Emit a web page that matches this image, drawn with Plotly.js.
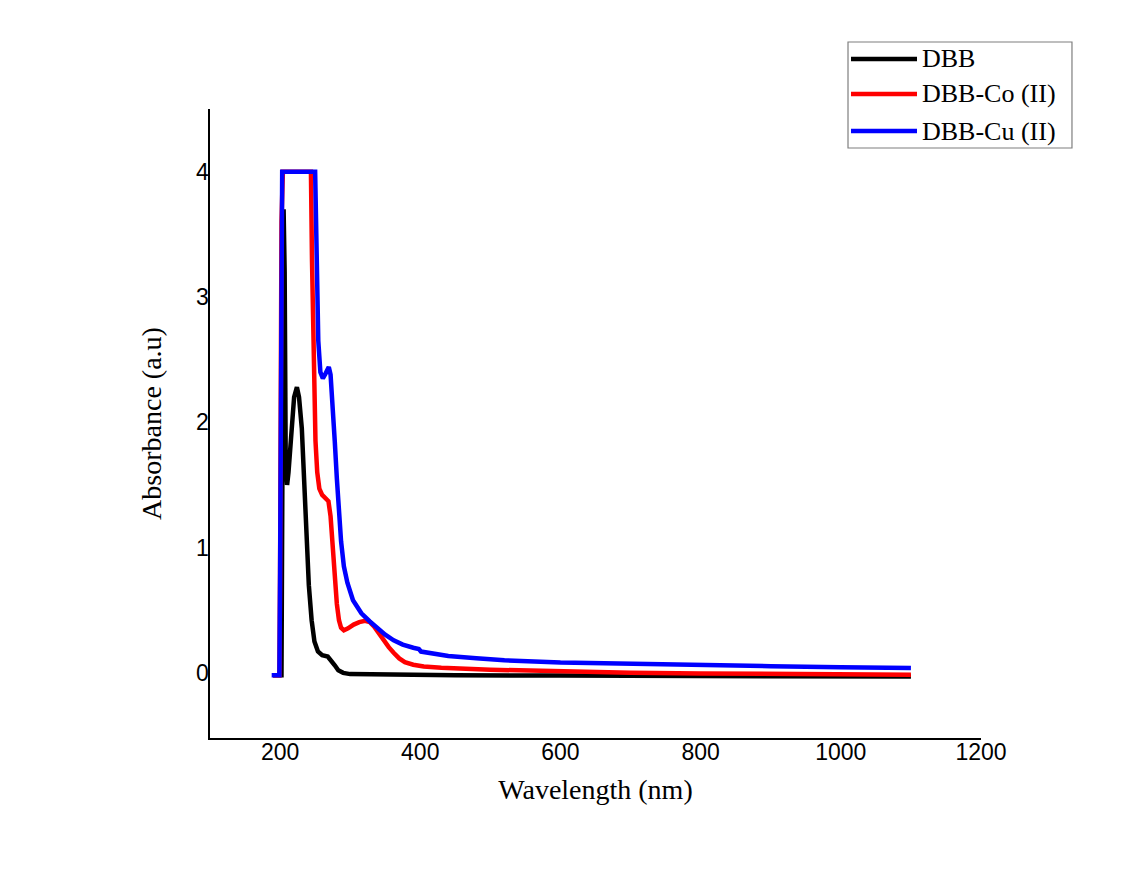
<!DOCTYPE html>
<html>
<head>
<meta charset="utf-8">
<script src="https://cdn.plot.ly/plotly-3.0.1.min.js"></script>
<style>html,body{margin:0;padding:0;background:#fff;}#chart{width:1122px;height:876px;}</style>
</head>
<body>
<div id="chart"></div>
<script>
// ---- data ----
const seriesNames = ["DBB", "DBB-Co (II)", "DBB-Cu (II)"];

const wlDBB = [190, 202, 205, 206.5, 208, 210, 212, 216, 220, 224, 227, 231, 234, 237.5, 241, 245, 249, 254, 260, 268, 273, 278, 283, 290, 300, 350, 450, 600, 800, 1000, 1100];
const absDBB = [-0.02, -0.02, 3.7, 3.2, 1.7, 1.5, 1.6, 1.95, 2.2, 2.28, 2.2, 1.95, 1.55, 1.1, 0.7, 0.42, 0.25, 0.17, 0.14, 0.13, 0.1, 0.06, 0.02, 0.0, -0.01, -0.015, -0.02, -0.022, -0.025, -0.028, -0.03];

const wlCo = [190, 199, 200, 202, 204, 244, 245.5, 247, 248.5, 250.5, 253, 256, 260, 266, 269, 272, 275, 278, 281, 284, 287, 291, 297, 305, 313, 321, 328, 334, 340, 347, 355, 362, 370, 378, 390, 405, 430, 500, 600, 700, 800, 900, 1000, 1100];
const absCo = [-0.02, -0.02, 0.8, 3.6, 4.0, 4.0, 3.3, 2.8, 2.25, 1.85, 1.6, 1.47, 1.42, 1.39, 1.37, 1.25, 1.0, 0.75, 0.55, 0.42, 0.36, 0.34, 0.355, 0.385, 0.405, 0.415, 0.405, 0.37, 0.32, 0.27, 0.205, 0.16, 0.115, 0.085, 0.065, 0.05, 0.04, 0.025, 0.01, 0.0, -0.005, -0.01, -0.013, -0.015];

const wlCu = [188, 199, 200, 201.5, 203, 250, 251, 252.5, 254.5, 257.5, 261, 265, 269.5, 272, 275, 278, 281, 284, 287, 291, 296, 304, 316, 328, 340, 350, 362, 375, 390, 398, 401, 415, 440, 480, 520, 600, 700, 800, 900, 1000, 1100];
const absCu = [-0.02, -0.02, 0.8, 3.6, 4.0, 4.0, 3.6, 3.05, 2.65, 2.4, 2.35, 2.39, 2.44, 2.38, 2.15, 1.85, 1.55, 1.28, 1.05, 0.85, 0.72, 0.58, 0.475, 0.41, 0.35, 0.305, 0.26, 0.225, 0.2, 0.19, 0.17, 0.155, 0.135, 0.117, 0.1, 0.082, 0.07, 0.061, 0.053, 0.045, 0.038];

const seriesColors = ["#000000", "#ff0000", "#0000ff"];
const xTickVals = [200, 400, 600, 800, 1000, 1200];
const yTickVals = [0, 1, 2, 3, 4];

// ---- traces ----
const xs = [wlDBB, wlCo, wlCu];
const ys = [absDBB, absCo, absCu];
const traces = xs.map((x, i) => ({
  type: "scatter", mode: "lines", name: seriesNames[i],
  x: x, y: ys[i],
  line: {color: seriesColors[i], width: 4.5, shape: "linear"},
  showlegend: false
}));

// ---- hand-drawn legend (long line samples as in the reference) ----
const legX0 = 0.8275, legX1 = 1.118, legY0 = 0.938, legY1 = 1.1065;
const legRowsY = [1.0795, 1.0239, 0.965];
const shapes = [{type: "rect", xref: "paper", yref: "paper", x0: legX0, x1: legX1, y0: legY0, y1: legY1,
  line: {color: "#7f7f7f", width: 1.2}, fillcolor: "rgba(0,0,0,0)"}];
const annotations = [];
seriesNames.forEach((n, i) => {
  shapes.push({type: "line", xref: "paper", yref: "paper", x0: 0.8314, x1: 0.917, y0: legRowsY[i], y1: legRowsY[i],
    line: {color: seriesColors[i], width: 4.5}});
  annotations.push({xref: "paper", yref: "paper", x: 0.921, y: legRowsY[i], xanchor: "left", yanchor: "middle",
    text: n, showarrow: false, font: {family: "Liberation Serif, Times New Roman, serif", size: 26, color: "#000"}});
});

const layout = {
  width: 1122, height: 876,
  paper_bgcolor: "#ffffff", plot_bgcolor: "#ffffff",
  margin: {l: 210, r: 141, t: 109, b: 138},
  showlegend: false,
  xaxis: {
    range: [100, 1200], tickvals: xTickVals, ticks: "", showgrid: false, zeroline: false,
    showline: true, linecolor: "#000", linewidth: 1.6, ticklabelstandoff: -7,
    tickfont: {family: "Liberation Sans, Arial, sans-serif", size: 23, color: "#000"},
    title: {text: "Wavelength (nm)", standoff: 15, font: {family: "Liberation Serif, Times New Roman, serif", size: 28, color: "#000"}}
  },
  yaxis: {
    range: [-0.52, 4.5], tickvals: yTickVals, ticks: "", showgrid: false, zeroline: false,
    showline: true, linecolor: "#000", linewidth: 1.6, ticklabelstandoff: -5,
    tickfont: {family: "Liberation Sans, Arial, sans-serif", size: 23, color: "#000"},
    title: {text: "Absorbance (a.u)", standoff: 26, font: {family: "Liberation Serif, Times New Roman, serif", size: 28, color: "#000"}}
  },
  shapes: shapes,
  annotations: annotations
};

Plotly.newPlot("chart", traces, layout, {displayModeBar: false, staticPlot: true});
</script>
</body>
</html>
